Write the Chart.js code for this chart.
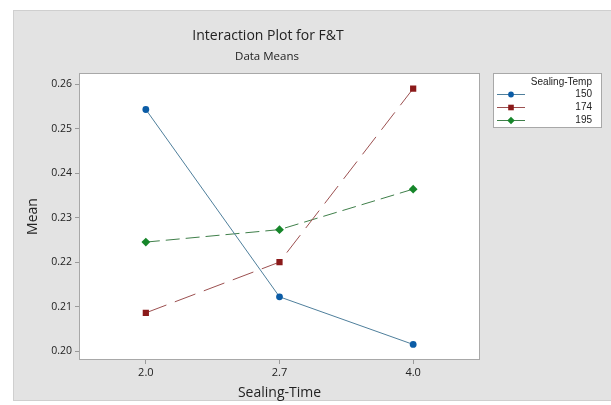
<!DOCTYPE html>
<html>
<head>
<meta charset="utf-8">
<script src="https://cdn.jsdelivr.net/npm/chart.js@4"></script>
<style>
html,body{margin:0;padding:0;background:#fff;}
#wrap{position:relative;width:611px;height:405px;}
</style>
</head>
<body>
<div id="wrap"><canvas id="c" width="611" height="405"></canvas></div>
<script>
const categories = ["2.0", "2.7", "4.0"];
const seriesNames = ["150", "174", "195"];
const temp150 = [0.2543, 0.2122, 0.2015];
const temp174 = [0.2086, 0.2200, 0.2590];
const temp195 = [0.2245, 0.2273, 0.2364];
const yTicks = [0.20, 0.21, 0.22, 0.23, 0.24, 0.25, 0.26];
const chartTitle = "Interaction Plot for F&T";
const chartSubtitle = "Data Means";
const legendTitle = "Sealing-Temp";
const xTitle = "Sealing-Time";
const yTitle = "Mean";

const styles = [
  {line:"#4f7f9c", pt:"#0b5ca6", style:"circle", r:3.4, dash:[]},
  {line:"#9c5050", pt:"#8b1a1a", style:"rect", r:4.4, dash:[22,9]},
  {line:"#3f7f4a", pt:"#16862a", style:"rectRot", r:4.4, dash:[14,6]}
];
const values = [temp150, temp174, temp195];

const bgPlugin = {
  id:"bg",
  beforeDraw(chart){
    const ctx = chart.ctx;
    ctx.save();
    ctx.fillStyle = "#fff";
    ctx.fillRect(0,0,chart.width,chart.height);
    ctx.fillStyle = "#e3e3e3";
    ctx.fillRect(13,10,chart.width-13,391);
    ctx.strokeStyle = "#cfcfcf";
    ctx.lineWidth = 1;
    ctx.strokeRect(13.5,10.5,chart.width,390);
    const a = chart.chartArea;
    ctx.fillStyle = "#fff";
    ctx.fillRect(a.left,a.top,a.right-a.left,a.bottom-a.top);
    ctx.strokeStyle = "#a8a8a8";
    ctx.strokeRect(a.left+0.5,a.top+0.5,a.right-a.left-1,a.bottom-a.top-1);
    ctx.fillStyle = "#222";
    ctx.textAlign = "center";
    ctx.textBaseline = "middle";
    ctx.font = '14px "Open Sans", sans-serif';
    ctx.fillText(chartTitle, 268, 36);
    ctx.font = '11.5px "Open Sans", sans-serif';
    ctx.fillText(chartSubtitle, 267, 57);
    ctx.restore();
  },
  afterDraw(chart){
    const ctx = chart.ctx;
    ctx.save();
    const x0 = 493, y0 = 73, w = 109, h = 55;
    ctx.fillStyle = "#fff";
    ctx.fillRect(x0,y0,w,h);
    ctx.strokeStyle = "#a8a8a8";
    ctx.lineWidth = 1;
    ctx.strokeRect(x0+0.5,y0+0.5,w-1,h-1);
    ctx.font = '10px "Liberation Sans", Arial, sans-serif';
    ctx.textAlign = "right";
    ctx.textBaseline = "middle";
    ctx.fillStyle = "#222";
    ctx.fillText(legendTitle, 592, 82);
    const ys = [94, 107, 120];
    chart.data.datasets.forEach((ds,i)=>{
      const y = ys[i] + 0.5;
      ctx.strokeStyle = ds.borderColor;
      ctx.lineWidth = 1;
      ctx.setLineDash([]);
      ctx.beginPath(); ctx.moveTo(497,y); ctx.lineTo(525,y); ctx.stroke();
      ctx.fillStyle = ds.pointBackgroundColor;
      ctx.beginPath();
      const r = ds.pointRadius * 0.85;
      if (ds.pointStyle==="circle"){ctx.arc(511,y,r,0,Math.PI*2);}
      else if (ds.pointStyle==="rect"){ctx.rect(511-r*0.75,y-r*0.75,r*1.5,r*1.5);}
      else {ctx.moveTo(511,y-r);ctx.lineTo(511+r,y);ctx.lineTo(511,y+r);ctx.lineTo(511-r,y);ctx.closePath();}
      ctx.fill();
      ctx.fillStyle = "#222";
      ctx.fillText(ds.label, 592, ys[i]);
    });
    ctx.restore();
  }
};

const datasets = seriesNames.map((n,i)=>({
  label:n,
  data:values[i],
  borderColor:styles[i].line,
  borderWidth:1,
  borderDash:styles[i].dash,
  pointStyle:styles[i].style,
  pointRadius:styles[i].r,
  pointBackgroundColor:styles[i].pt,
  pointBorderColor:styles[i].pt,
  pointBorderWidth:0,
  tension:0,
  fill:false
}));

new Chart(document.getElementById("c"),{
  type:"line",
  data:{labels:categories,datasets},
  plugins:[bgPlugin],
  options:{
    responsive:false,
    animation:false,
    devicePixelRatio:1,
    layout:{padding:{left:13,top:73,right:131,bottom:4}},
    plugins:{legend:{display:false},title:{display:false},tooltip:{enabled:false}},
    scales:{
      x:{
        type:"category",
        offset:true,
        grid:{display:true,drawOnChartArea:false,drawTicks:true,tickLength:4,color:"#9a9a9a",offset:false},
        border:{display:false},
        ticks:{color:"#222",font:{family:'"Open Sans", sans-serif',size:11},padding:2,maxRotation:0},
        title:{display:true,text:xTitle,color:"#222",font:{family:'"Open Sans", sans-serif',size:14},padding:{top:0,bottom:0}},
        afterFit(s){s.height=41;}
      },
      y:{
        min:0.198,
        max:0.2625,
        afterBuildTicks(s){s.ticks = yTicks.map(v=>({value:v}));},
        grid:{display:true,drawOnChartArea:false,drawTicks:true,tickLength:4,color:"#9a9a9a"},
        border:{display:false},
        ticks:{color:"#222",font:{family:'"Open Sans", sans-serif',size:10.5},padding:3,callback:(v)=>Number(v).toFixed(2)},
        title:{display:true,text:yTitle,color:"#222",font:{family:'"Open Sans", sans-serif',size:14},padding:{top:12,bottom:0}},
        afterFit(s){s.width=66;}
      }
    }
  }
});
</script>
</body>
</html>
